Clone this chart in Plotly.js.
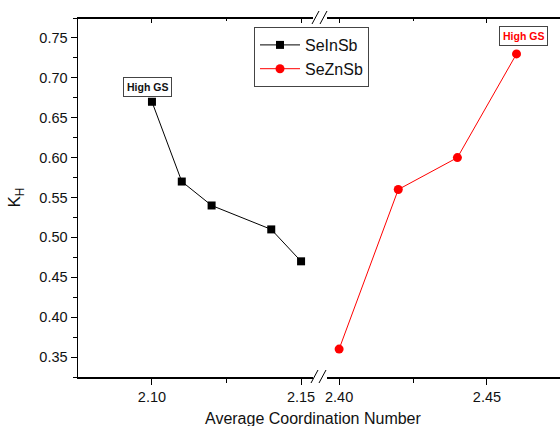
<!DOCTYPE html>
<html>
<head>
<meta charset="utf-8">
<script src="https://cdn.plot.ly/plotly-3.0.1.min.js"></script>
<style>
html,body{margin:0;padding:0;background:#fff;}
#wrap{position:relative;width:560px;height:426px;}
#chart{width:560px;height:426px;}
#frame{position:absolute;left:0;top:0;width:560px;height:426px;pointer-events:none;z-index:1000;}
#frame div{position:absolute;background:#000;}
</style>
</head>
<body>
<div id="wrap"><div id="chart"></div><div id="frame"></div></div>
<script>
// Data
const seInSbX = [2.10, 2.11, 2.12, 2.14, 2.15];
const seInSbY = [0.67, 0.57, 0.54, 0.51, 0.47];
const seZnSbX = [2.40, 2.42, 2.44, 2.46];
const seZnSbY = [0.36, 0.56, 0.60, 0.73];
const seriesNames = ['SeInSb', 'SeZnSb'];
const yTickVals = [0.35, 0.40, 0.45, 0.50, 0.55, 0.60, 0.65, 0.70, 0.75];
const leftTickVals = [2.10, 2.15];
const rightTickVals = [2.40, 2.45];
const leftMinorTicks = [2.075, 2.125];
const rightMinorTicks = [2.425];
const annText = 'High GS';
const xTitle = 'Average Coordination Number';
const yTitle = 'K<sub>H</sub>';

const FONT = 'Liberation Sans, Arial, sans-serif';

const traces = [
  {x: seInSbX, y: seInSbY, name: seriesNames[0], type: 'scatter', mode: 'lines+markers',
   xaxis: 'x', yaxis: 'y',
   line: {color: '#000', width: 1}, marker: {symbol: 'square', size: 8, color: '#000'}},
  {x: seZnSbX, y: seZnSbY, name: seriesNames[1], type: 'scatter', mode: 'lines+markers',
   xaxis: 'x2', yaxis: 'y',
   line: {color: '#ff0000', width: 1}, marker: {symbol: 'circle', size: 9, color: '#ff0000'}}
];

const tickfont = {family: FONT, size: 14.5, color: '#111'};
const baseX = {
  showgrid: false, zeroline: false, showline: true, mirror: true, linecolor: '#000', linewidth: 1.5,
  ticks: 'outside', ticklen: 6, tickwidth: 1, tickcolor: '#000', tickfont: tickfont,
  tickformat: '.2f',
  minor: {dtick: 0.025, ticks: 'outside', ticklen: 4, tickcolor: '#000', tickwidth: 1}
};

const L = 78, T = 18, W = 482, H = 359;
function px(p) { return (p - L) / W; }
function py(p) { return (T + H - p) / H; }

const leftEnd = px(313), rightStart = px(327);
const leftRange = [2.0752, 2.154], rightRange = [2.3959, 2.4747];

const shapes = [
  // axis break marks, bottom
  {type: 'line', xref: 'paper', yref: 'paper', x0: px(311), y0: py(383), x1: px(318), y1: py(370),
   line: {color: '#000', width: 1}},
  {type: 'line', xref: 'paper', yref: 'paper', x0: px(319), y0: py(383), x1: px(326), y1: py(370),
   line: {color: '#000', width: 1}},
  // axis break marks, top
  {type: 'line', xref: 'paper', yref: 'paper', x0: px(312), y0: py(24), x1: px(319), y1: py(11),
   line: {color: '#000', width: 1}},
  {type: 'line', xref: 'paper', yref: 'paper', x0: px(320), y0: py(24), x1: px(327), y1: py(11),
   line: {color: '#000', width: 1}}
];

const layout = {
  width: 560, height: 426,
  margin: {l: L, r: 0, t: T, b: 426 - T - H},
  paper_bgcolor: '#fff', plot_bgcolor: '#fff',
  font: {family: FONT, color: '#111'},
  showlegend: true,
  legend: {x: px(254), y: py(27), xanchor: 'left', yanchor: 'top',
    bordercolor: '#444', borderwidth: 1, bgcolor: '#fff',
    font: {family: FONT, size: 16, color: '#111'}, tracegroupgap: 0, itemwidth: 40},
  xaxis: Object.assign({}, baseX, {domain: [0, leftEnd], range: leftRange,
    tickvals: leftTickVals, anchor: 'y'}),
  xaxis2: Object.assign({}, baseX, {domain: [rightStart, 1], range: rightRange,
    tickvals: rightTickVals, anchor: 'y'}),
  yaxis: {range: [0.325, 0.775], tickvals: yTickVals, tickformat: '.2f',
    showgrid: false, zeroline: false, showline: true, linecolor: '#000', linewidth: 1.5,
    ticks: 'outside', ticklen: 6, tickcolor: '#000', tickfont: tickfont,
    minor: {dtick: 0.025, ticks: 'outside', ticklen: 4, tickcolor: '#000'},
    title: {text: yTitle, font: {family: FONT, size: 17, color: '#111'}, standoff: 14}},
  annotations: [
    {xref: 'x', yref: 'y', x: seInSbX[0], y: seInSbY[0], text: '<b>' + annText + '</b>',
     showarrow: false, xshift: -4, yshift: 15, font: {family: FONT, size: 10.5, color: '#111'},
     bordercolor: '#444', borderwidth: 1, borderpad: 3, bgcolor: '#fff'},
    {xref: 'x2', yref: 'y', x: seZnSbX[3], y: seZnSbY[3], text: '<b>' + annText + '</b>',
     showarrow: false, xshift: 7, yshift: 18, font: {family: FONT, size: 10.5, color: '#ff0000'},
     bordercolor: '#444', borderwidth: 1, borderpad: 3, bgcolor: '#fff'},
    {xref: 'paper', yref: 'paper', x: px(313.5), y: py(418), xanchor: 'center', yanchor: 'middle',
     text: xTitle, showarrow: false, font: {family: FONT, size: 16, color: '#111'}}
  ],
  shapes: shapes
};

// Top frame line with inward ticks, positioned through the axes' own scales,
// drawn as an HTML overlay above the plot.
let frameDrawn = false;
function drawTopFrame() {
  if (frameDrawn) return;
  const gd = document.getElementById('chart');
  const fl = gd._fullLayout;
  if (!fl || !fl._size || !fl.xaxis || !fl.xaxis2 || !fl.xaxis._length) return;
  frameDrawn = true;
  const yTop = fl._size.t;
  const frame = document.getElementById('frame');
  function box(x, y, w, h) {
    const d = document.createElement('div');
    d.style.left = x + 'px'; d.style.top = y + 'px';
    d.style.width = w + 'px'; d.style.height = h + 'px';
    frame.appendChild(d);
  }
  [[fl.xaxis, leftTickVals, leftMinorTicks], [fl.xaxis2, rightTickVals, rightMinorTicks]].forEach(function (a) {
    const ax = a[0];
    box(ax._offset, yTop - 1, ax._length, 1.5);
    a[1].forEach(function (v) { box(ax._offset + ax.l2p(v) - 0.5, yTop, 1, 5); });
    a[2].forEach(function (v) { box(ax._offset + ax.l2p(v) - 0.5, yTop, 1, 3); });
  });
}

const gdEl = document.getElementById('chart');
try {
  const p = Plotly.newPlot(gdEl, traces, layout, {displayModeBar: false, staticPlot: true});
  try { drawTopFrame(); } catch (e) {}
  if (p && p.then) p.then(function () { try { drawTopFrame(); } catch (e) {} });
} catch (e) {}
setTimeout(function () { try { drawTopFrame(); } catch (e) {} }, 0);
setTimeout(function () { try { drawTopFrame(); } catch (e) {} }, 200);
</script>
</body>
</html>
